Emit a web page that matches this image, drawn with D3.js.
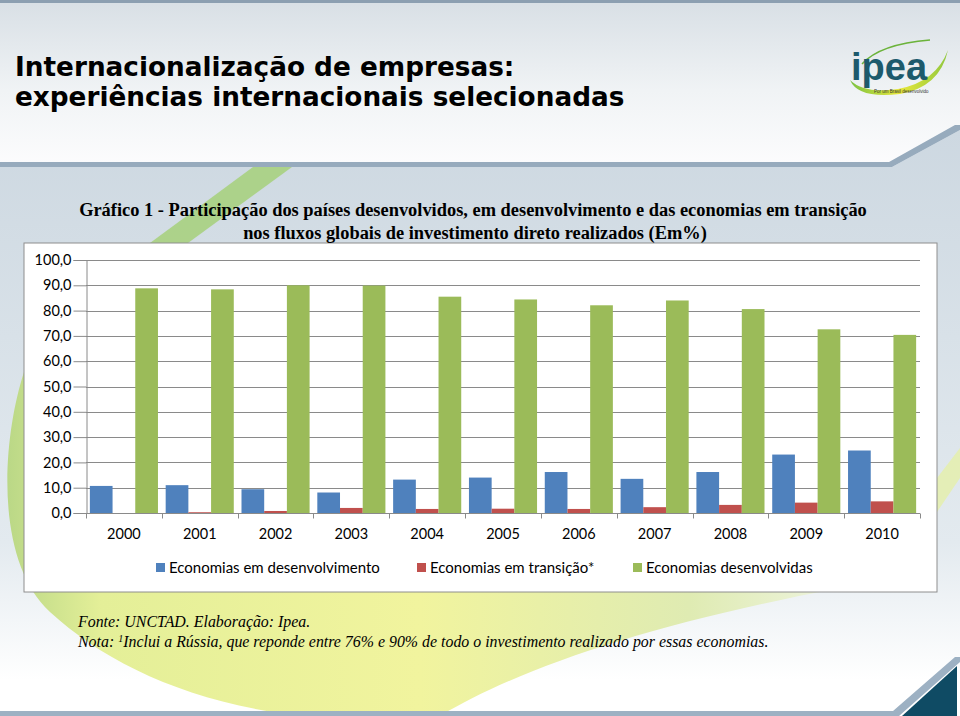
<!DOCTYPE html>
<html>
<head>
<meta charset="utf-8">
<script src="https://cdn.jsdelivr.net/npm/d3@7"></script>
<style>
  body { margin: 0; background: #fff; }
  svg { display: block; }
</style>
</head>
<body>
<div id="chart"></div>
<script>
// valores (Em%)
var years = ["2000", "2001", "2002", "2003", "2004", "2005", "2006", "2007", "2008", "2009", "2010"];
var emDesenvolvimento = [10.7, 11.0, 9.4, 8.1, 13.2, 14.0, 16.2, 13.5, 16.2, 23.1, 24.7];
var emTransicao = [0.0, 0.3, 0.8, 2.0, 1.6, 1.7, 1.6, 2.3, 3.2, 4.1, 4.6];
var desenvolvidas = [88.8, 88.4, 90.0, 89.9, 85.5, 84.4, 82.1, 84.0, 80.6, 72.6, 70.4];
var seriesNames = ["Economias em desenvolvimento", "Economias em transição*", "Economias desenvolvidas"];
var seriesColors = ["#4f81bd", "#c0504d", "#9bbb59"];
var yTicks = [0, 10, 20, 30, 40, 50, 60, 70, 80, 90, 100];

var W = 960, H = 716;
var plot = {left: 86, right: 920, top: 260, bottom: 513};

var svg = d3.select("#chart").append("svg")
    .attr("width", W)
    .attr("height", H);

var defs = svg.append("defs");

var gTop = defs.append("linearGradient").attr("id", "gTop")
    .attr("x1", 0).attr("y1", 0).attr("x2", 0).attr("y2", 1);
gTop.append("stop").attr("offset", 0).attr("stop-color", "#d8dfe5");
gTop.append("stop").attr("offset", 0.55).attr("stop-color", "#f0f3f5");
gTop.append("stop").attr("offset", 1).attr("stop-color", "#fcfcfd");

var gMid = defs.append("linearGradient").attr("id", "gMid")
    .attr("x1", 0).attr("y1", 0).attr("x2", 0).attr("y2", 1);
gMid.append("stop").attr("offset", 0).attr("stop-color", "#cdd8e1");
gMid.append("stop").attr("offset", 0.75).attr("stop-color", "#e3eaef");
gMid.append("stop").attr("offset", 1).attr("stop-color", "#ffffff");

var gSwoosh = defs.append("linearGradient").attr("id", "gSwoosh")
    .attr("gradientUnits", "userSpaceOnUse")
    .attr("x1", 0).attr("y1", 0).attr("x2", 840).attr("y2", 0);
gSwoosh.append("stop").attr("offset", 0).attr("stop-color", "#b7d685");
gSwoosh.append("stop").attr("offset", 0.12).attr("stop-color", "#e4ef98");
gSwoosh.append("stop").attr("offset", 0.5).attr("stop-color", "#f1f49e");
gSwoosh.append("stop").attr("offset", 0.82).attr("stop-color", "#dfebb2");
gSwoosh.append("stop").attr("offset", 1).attr("stop-color", "#eef4df");

var gLogo = defs.append("linearGradient").attr("id", "gLogo")
    .attr("gradientUnits", "userSpaceOnUse")
    .attr("x1", 850).attr("y1", 0).attr("x2", 950).attr("y2", 0);
gLogo.append("stop").attr("offset", 0).attr("stop-color", "#7cc242");
gLogo.append("stop").attr("offset", 0.5).attr("stop-color", "#e8e83a");
gLogo.append("stop").attr("offset", 1).attr("stop-color", "#8cc63f");

// fundo
svg.append("rect").attr("width", W).attr("height", H).attr("fill", "#fff");
svg.append("rect").attr("width", W).attr("height", 165).attr("fill", "url(#gTop)");
svg.append("rect").attr("width", W).attr("height", 3).attr("fill", "#8c9fb1");
svg.append("path")
    .attr("d", "M0,167 L892,167 L960,130 L960,680 L0,680 Z")
    .attr("fill", "url(#gMid)");
svg.append("path")
    .attr("d", "M0,162 L889,162 L955,125 L960,125 L960,130 L892,167 L0,167 Z")
    .attr("fill", "#97abbd");
svg.append("path")
    .attr("d", "M253,167 L292,167 L188,243 L150,243 Z")
    .attr("fill", "#a6d07a").attr("opacity", 0.85);

// faixa amarela ao fundo
svg.append("path")
    .attr("d", "M24,372 C2,440 -6,560 50,612 C105,662 185,702 300,716 L440,716 " +
               "C520,668 650,624 840,588 L840,372 Z")
    .attr("fill", "url(#gSwoosh)");
svg.append("path")
    .attr("d", "M937,478 L960,448 L960,478 L937,512 Z")
    .attr("fill", "#e4eeb0").attr("opacity", 0.9);

// titulo
var title = svg.append("text")
    .attr("font-family", "DejaVu Sans")
    .attr("font-weight", "bold")
    .attr("font-size", 26.3)
    .attr("fill", "#000");
title.append("tspan").attr("x", 15).attr("y", 76).text("Internacionalização de empresas:");
title.append("tspan").attr("x", 15).attr("y", 106).text("experiências internacionais selecionadas");

// logo ipea
var logo = svg.append("g");
logo.append("path")
    .attr("d", "M862,64 Q880,44 930,40")
    .attr("fill", "none").attr("stroke", "#6bb33a").attr("stroke-width", 1.5);
logo.append("path")
    .attr("d", "M850,80 Q858,99 900,94 Q940,87 948,50 Q936,82 898,89 Q864,94 850,80 Z")
    .attr("fill", "url(#gLogo)");
logo.append("text")
    .attr("x", 851).attr("y", 80)
    .attr("font-family", "Liberation Sans")
    .attr("font-weight", "bold")
    .attr("font-size", 38)
    .attr("fill", "#1d5a6c")
    .text("ipea");
logo.append("text")
    .attr("x", 874).attr("y", 93)
    .attr("font-family", "Liberation Sans")
    .attr("font-size", 4.5)
    .attr("fill", "#333")
    .text("Por um Brasil desenvolvido");

// caixa do grafico
svg.append("rect")
    .attr("x", 24).attr("y", 243)
    .attr("width", 913).attr("height", 349)
    .attr("fill", "#fff")
    .attr("stroke", "#8e8e8e").attr("stroke-width", 1);

var chartTitle = svg.append("text")
    .attr("font-family", "Liberation Serif")
    .attr("font-weight", "bold")
    .attr("font-size", 18.4)
    .attr("text-anchor", "middle")
    .attr("fill", "#000");
chartTitle.append("tspan").attr("x", 473).attr("y", 216)
    .text("Gráfico 1 - Participação dos países desenvolvidos, em desenvolvimento e das economias em transição");
chartTitle.append("tspan").attr("x", 475).attr("y", 239)
    .text("nos fluxos globais de investimento direto realizados (Em%)");

// escalas
var x0 = d3.scaleBand().domain(years).range([plot.left, plot.right]).paddingInner(0).paddingOuter(0);
var x1 = d3.scaleBand().domain(d3.range(3)).range([0, x0.bandwidth()]).paddingInner(0).paddingOuter(0.17);
var y = d3.scaleLinear().domain([0, 100]).range([plot.bottom, plot.top]);

var ptBR = d3.formatLocale({decimal: ",", thousands: ".", grouping: [3], currency: ["R$", ""]});
var fmt = ptBR.format(".1f");

// grade
svg.append("g")
    .selectAll("line")
    .data(yTicks.filter(function(d) { return d > 0; }))
    .enter().append("line")
    .attr("x1", plot.left).attr("x2", plot.right)
    .attr("y1", function(d) { return Math.round(y(d)) + 0.5; })
    .attr("y2", function(d) { return Math.round(y(d)) + 0.5; })
    .attr("stroke", "#8a8a8a").attr("stroke-width", 1);

// barras
var rows = years.map(function(yr, i) {
    return {year: yr, values: [emDesenvolvimento[i], emTransicao[i], desenvolvidas[i]]};
});

var groups = svg.append("g").selectAll("g")
    .data(rows)
    .enter().append("g")
    .attr("transform", function(d) { return "translate(" + x0(d.year) + ",0)"; });

groups.selectAll("rect")
    .data(function(d) { return d.values; })
    .enter().append("rect")
    .attr("x", function(d, j) { return x1(j); })
    .attr("width", x1.bandwidth())
    .attr("y", function(d) { return y(d); })
    .attr("height", function(d) { return y(0) - y(d); })
    .attr("fill", function(d, j) { return seriesColors[j]; });

// eixo y
var yAxis = svg.append("g")
    .attr("transform", "translate(" + (plot.left + 0.5) + ",0)")
    .call(d3.axisLeft(y).tickValues(yTicks).tickFormat(fmt).tickSize(13).tickPadding(2));
yAxis.select(".domain").attr("stroke", "#8a8a8a");
yAxis.selectAll(".tick line").attr("stroke", "#8a8a8a");
yAxis.selectAll(".tick text")
    .attr("font-family", "Lato")
    .attr("font-size", 14.5)
    .attr("fill", "#000");

// eixo x
var xAxis = svg.append("g")
    .attr("transform", "translate(0," + (Math.round(y(0)) + 0.5) + ")");
xAxis.append("line")
    .attr("x1", plot.left).attr("x2", plot.right)
    .attr("stroke", "#8a8a8a");
xAxis.selectAll(".sep")
    .data(years.concat(["end"]))
    .enter().append("line")
    .attr("class", "sep")
    .attr("x1", function(d, i) { return Math.round(plot.left + i * x0.step()) + 0.5; })
    .attr("x2", function(d, i) { return Math.round(plot.left + i * x0.step()) + 0.5; })
    .attr("y1", 0).attr("y2", 5)
    .attr("stroke", "#8a8a8a");
xAxis.selectAll(".lbl")
    .data(years)
    .enter().append("text")
    .attr("class", "lbl")
    .attr("x", function(d) { return x0(d) + x0.bandwidth() / 2; })
    .attr("y", 25)
    .attr("text-anchor", "middle")
    .attr("font-family", "Lato")
    .attr("font-size", 14.5)
    .attr("fill", "#000")
    .text(function(d) { return d; });

// legenda
var legendX = [156, 417, 633];
var legend = svg.append("g").selectAll("g")
    .data(seriesNames)
    .enter().append("g")
    .attr("transform", function(d, i) { return "translate(" + legendX[i] + ",563)"; });
legend.append("rect")
    .attr("width", 9).attr("height", 9)
    .attr("fill", function(d, i) { return seriesColors[i]; });
legend.append("text")
    .attr("x", 13).attr("y", 10)
    .attr("font-family", "Lato")
    .attr("font-size", 15)
    .attr("fill", "#000")
    .text(function(d) { return d; });

// notas
var notes = svg.append("text")
    .attr("font-family", "Liberation Serif")
    .attr("font-style", "italic")
    .attr("font-size", 15.9)
    .attr("fill", "#000");
notes.append("tspan").attr("x", 78).attr("y", 627).text("Fonte: UNCTAD. Elaboração: Ipea.");
var nota = notes.append("tspan").attr("x", 78).attr("y", 647);
nota.text("Nota: ");
notes.append("tspan").attr("font-size", 10).attr("dy", -5).text("1");
notes.append("tspan").attr("dy", 5)
    .text("Inclui a Rússia, que reponde entre 76% e 90% de todo o investimento realizado por essas economias.");

// rodape
svg.append("path")
    .attr("d", "M0,711 L893,711 L955,657 L960,657 L960,662 L899,716 L0,716 Z")
    .attr("fill", "#9db1c3");
svg.append("path")
    .attr("d", "M902,716 L957,666 L957,716 Z")
    .attr("fill", "#0f4b64");
</script>
</body>
</html>
